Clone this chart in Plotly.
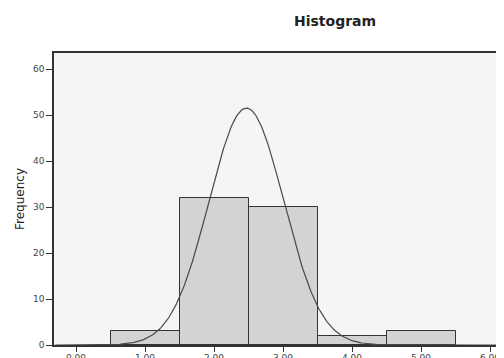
import numpy as np
import plotly.graph_objects as go

# Data
bin_centers = [1.0, 2.0, 3.0, 4.0, 5.0]
counts = [3, 32, 30, 2, 3]
bin_width = 1.0
# Normal curve parameters (as drawn in the reference)
curve_mean = 2.47
curve_sd = 0.542
curve_n = 70

x_ticks = [0, 1, 2, 3, 4, 5, 6]
x_tick_labels = ["0.00", "1.00", "2.00", "3.00", "4.00", "5.00", "6.00"]
y_ticks = [0, 10, 20, 30, 40, 50, 60]

xs = np.linspace(-0.3, 6.2, 400)
ys = curve_n * bin_width / (curve_sd * np.sqrt(2 * np.pi)) * np.exp(-0.5 * ((xs - curve_mean) / curve_sd) ** 2)

# page has an 8px body margin; figure is sized to fill the rest
OFF = 8
W, H = 504 - OFF, 358 - OFF
L, R, T, B = 54 - OFF, 0, 53 - OFF, 358 - 345
plot_w = W - L - R
plot_h = H - T - B

fig = go.Figure()
fig.add_trace(go.Bar(
    x=bin_centers, y=counts, width=bin_width,
    marker=dict(color="#d3d3d3", line=dict(color="#333333", width=1)),
    showlegend=False, hoverinfo="skip",
))
fig.add_trace(go.Scatter(
    x=xs, y=ys, mode="lines",
    line=dict(color="#4a4a4a", width=1.2),
    showlegend=False, hoverinfo="skip",
))

font_family = "DejaVu Sans, Arial, sans-serif"
fig.update_layout(
    width=W, height=H,
    margin=dict(l=L, r=R, t=T, b=B),
    paper_bgcolor="white",
    plot_bgcolor="#f5f5f5",
    bargap=0,
    font=dict(family=font_family, color="#333333"),
    annotations=[
        dict(text="<b>Histogram</b>",
             x=(335 - 54) / plot_w, y=(345 - 21) / plot_h,
             xref="paper", yref="paper", xanchor="center", yanchor="middle",
             showarrow=False, font=dict(size=14, color="#222222", family=font_family)),
    ],
)

fig.update_xaxes(
    range=[(54 - 76) / 69, (504 - 76) / 69],
    tickvals=x_ticks, ticktext=x_tick_labels,
    ticks="outside", ticklen=5, tickcolor="#333333", tickwidth=1,
    ticklabelstandoff=-2,
    showgrid=False, zeroline=False,
    showline=True, linecolor="#333333", linewidth=1.5, mirror=True,
    tickfont=dict(size=9, color="#444444"),
    automargin=False,
)
fig.update_yaxes(
    range=[0, 63.5],
    tickvals=y_ticks,
    ticks="outside", ticklen=6, tickcolor="#333333", tickwidth=1,
    showgrid=False, zeroline=False,
    showline=True, linecolor="#333333", linewidth=1.5, mirror=True,
    tickfont=dict(size=9, color="#444444"),
    title=dict(text="Frequency", font=dict(size=12, color="#222222"), standoff=6),
    automargin=False,
)

fig.write_html("out.html")
